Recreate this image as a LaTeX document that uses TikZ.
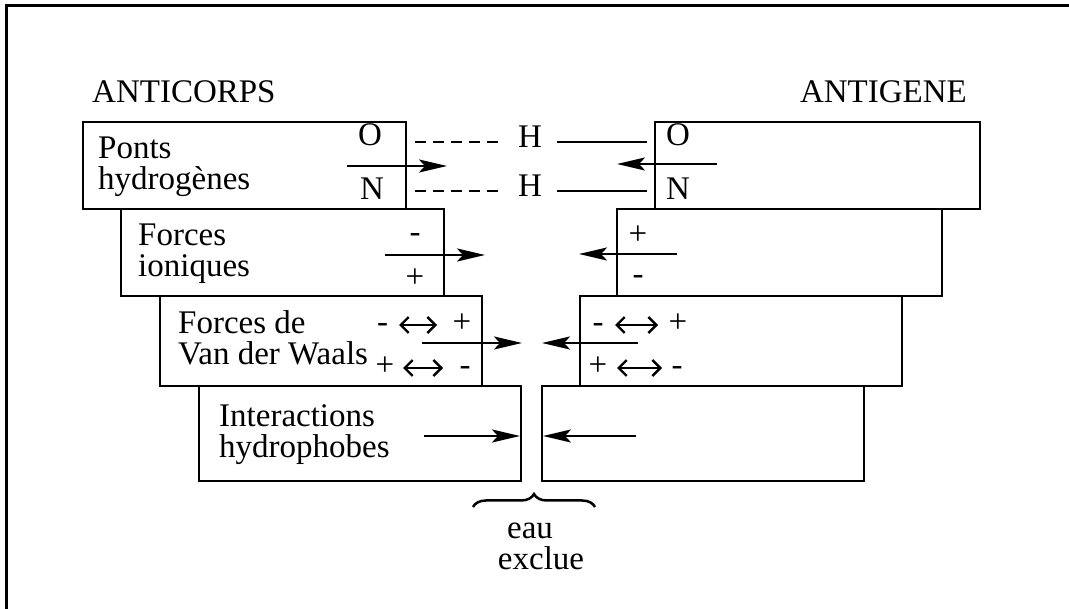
\documentclass[tikz,border=0pt]{standalone}
\usepackage{fontspec}
\setmainfont{Liberation Serif}
\usetikzlibrary{arrows.meta,decorations.pathreplacing}
\begin{document}
\begin{tikzpicture}[x=1pt,y=-1pt,
  box/.style={draw, line width=2.9pt, inner sep=0pt, outer sep=0pt, anchor=north west},
  lbl/.style={inner sep=0pt, font=\fontsize{33}{31}\selectfont},
  arr/.style={line width=2.5pt, -{Stealth[length=28pt,width=13pt,inset=6pt]}},
  dbl/.style={line width=2.4pt, {Straight Barb[length=8pt,width=16pt]}-{Straight Barb[length=8pt,width=16pt]}},
  hbond/.style={line width=2.5pt},
  hbdash/.style={line width=2.5pt, dash pattern=on 11pt off 7pt},
]
\useasboundingbox (0,0) rectangle (1069,609);
\fill[white] (0,0) rectangle (1069,609);
\draw[line width=3pt] (1069,6) -- (6,6) -- (6,609);

% titles
\node[lbl, anchor=base west] (tAC) at (92,103) {ANTICORPS};
\node[lbl, anchor=base east] (tAG) at (967,103) {ANTIGENE};

% boxes
\node[box, minimum width=323pt, minimum height=87pt] (L1) at (83,122) {};
\node[box, minimum width=323pt, minimum height=87pt] (L2) at (121,209) {};
\node[box, minimum width=322pt, minimum height=90pt] (L3) at (160,296) {};
\node[box, minimum width=322pt, minimum height=95pt] (L4) at (199,386) {};
\node[box, minimum width=325pt, minimum height=87pt] (R1) at (655,122) {};
\node[box, minimum width=325pt, minimum height=87pt] (R2) at (617,209) {};
\node[box, minimum width=322pt, minimum height=90pt] (R3) at (580,296) {};
\node[box, minimum width=322pt, minimum height=95pt] (R4) at (542,386) {};

% box labels
\node[lbl, align=left, anchor=north west] (t1) at (98,136.2) {Ponts\\hydrogènes};
\node[lbl, align=left, anchor=north west] (t2) at (138,223.2) {Forces\\ioniques};
\node[lbl, align=left, anchor=north west] (t3) at (178,310.5) {Forces de\\Van der Waals};
\node[lbl, align=left, anchor=north west] (t4) at (219,404.2) {Interactions\\hydrophobes};

% hydrogen bonds
\node[lbl, anchor=base] (OL) at (370,146) {O};
\node[lbl, anchor=base] (NL) at (372,200) {N};
\node[lbl, anchor=base] (OR) at (678,146) {O};
\node[lbl, anchor=base] (NR) at (678,200) {N};
\node[lbl, anchor=base] (H1) at (530,148) {H};
\node[lbl, anchor=base] (H2) at (530,197) {H};
\coordinate (d1a) at (415,142); \coordinate (d1b) at (502,142);
\coordinate (s1a) at (557,142); \coordinate (s1b) at (647,142);
\coordinate (d2a) at (415,191); \coordinate (d2b) at (502,191);
\coordinate (s2a) at (557,191); \coordinate (s2b) at (647,191);
\draw[hbdash] (d1a) -- (d1b);
\draw[hbond] (s1a) -- (s1b);
\draw[hbdash] (d2a) -- (d2b);
\draw[hbond] (s2a) -- (s2b);

% ionic signs
\node[lbl, anchor=base] (mL2) at (415,243) {-};
\node[lbl, anchor=base] (pL2) at (415,288) {+};
\node[lbl, anchor=base] (pR2) at (638,245) {+};
\node[lbl, anchor=base] (mR2) at (638,285) {-};

% van der Waals
\node[lbl, anchor=base] (vLm1) at (382.5,333) {-};
\node[lbl, anchor=base] (vLp1) at (462,333) {+};
\node[lbl, anchor=base] (vLp2) at (385,376) {+};
\node[lbl, anchor=base] (vLm2) at (465,376) {-};
\node[lbl, anchor=base] (vRm1) at (598,333) {-};
\node[lbl, anchor=base] (vRp1) at (678,333) {+};
\node[lbl, anchor=base] (vRp2) at (598,376) {+};
\node[lbl, anchor=base] (vRm2) at (677,376) {-};
\coordinate (e1a) at (399,325); \coordinate (e1b) at (437,325);
\coordinate (e2a) at (403,368); \coordinate (e2b) at (443,368);
\coordinate (e3a) at (615,325); \coordinate (e3b) at (658,325);
\coordinate (e4a) at (617,368); \coordinate (e4b) at (662,368);
\draw[dbl] (e1a) -- (e1b);
\draw[dbl] (e2a) -- (e2b);
\draw[dbl] (e3a) -- (e3b);
\draw[dbl] (e4a) -- (e4b);

% arrows
\coordinate (a1s) at (347,166); \coordinate (a1e) at (447,166);
\coordinate (b1s) at (717,164); \coordinate (b1e) at (617,164);
\coordinate (a2s) at (385,255); \coordinate (a2e) at (485,255);
\coordinate (b2s) at (677,254); \coordinate (b2e) at (579,254);
\coordinate (a3s) at (422,343); \coordinate (a3e) at (522,343);
\coordinate (b3s) at (638,343); \coordinate (b3e) at (542,343);
\coordinate (a4s) at (424,436); \coordinate (a4e) at (520,436);
\coordinate (b4s) at (636,436); \coordinate (b4e) at (543,436);
\draw[arr] (a1s) -- (a1e);
\draw[arr] (b1s) -- (b1e);
\draw[arr] (a2s) -- (a2e);
\draw[arr] (b2s) -- (b2e);
\draw[arr] (a3s) -- (a3e);
\draw[arr] (b3s) -- (b3e);
\draw[arr] (a4s) -- (a4e);
\draw[arr] (b4s) -- (b4e);

% brace and label
\coordinate (brL) at (473,507); \coordinate (brR) at (595,507);
\draw[line width=2.5pt, decorate, decoration={brace, amplitude=13pt}] (brL) -- (brR);
\node[lbl, align=center, anchor=north] (eau) at (541,523) {eau\hspace*{22pt}\\exclue};
\end{tikzpicture}
\end{document}
